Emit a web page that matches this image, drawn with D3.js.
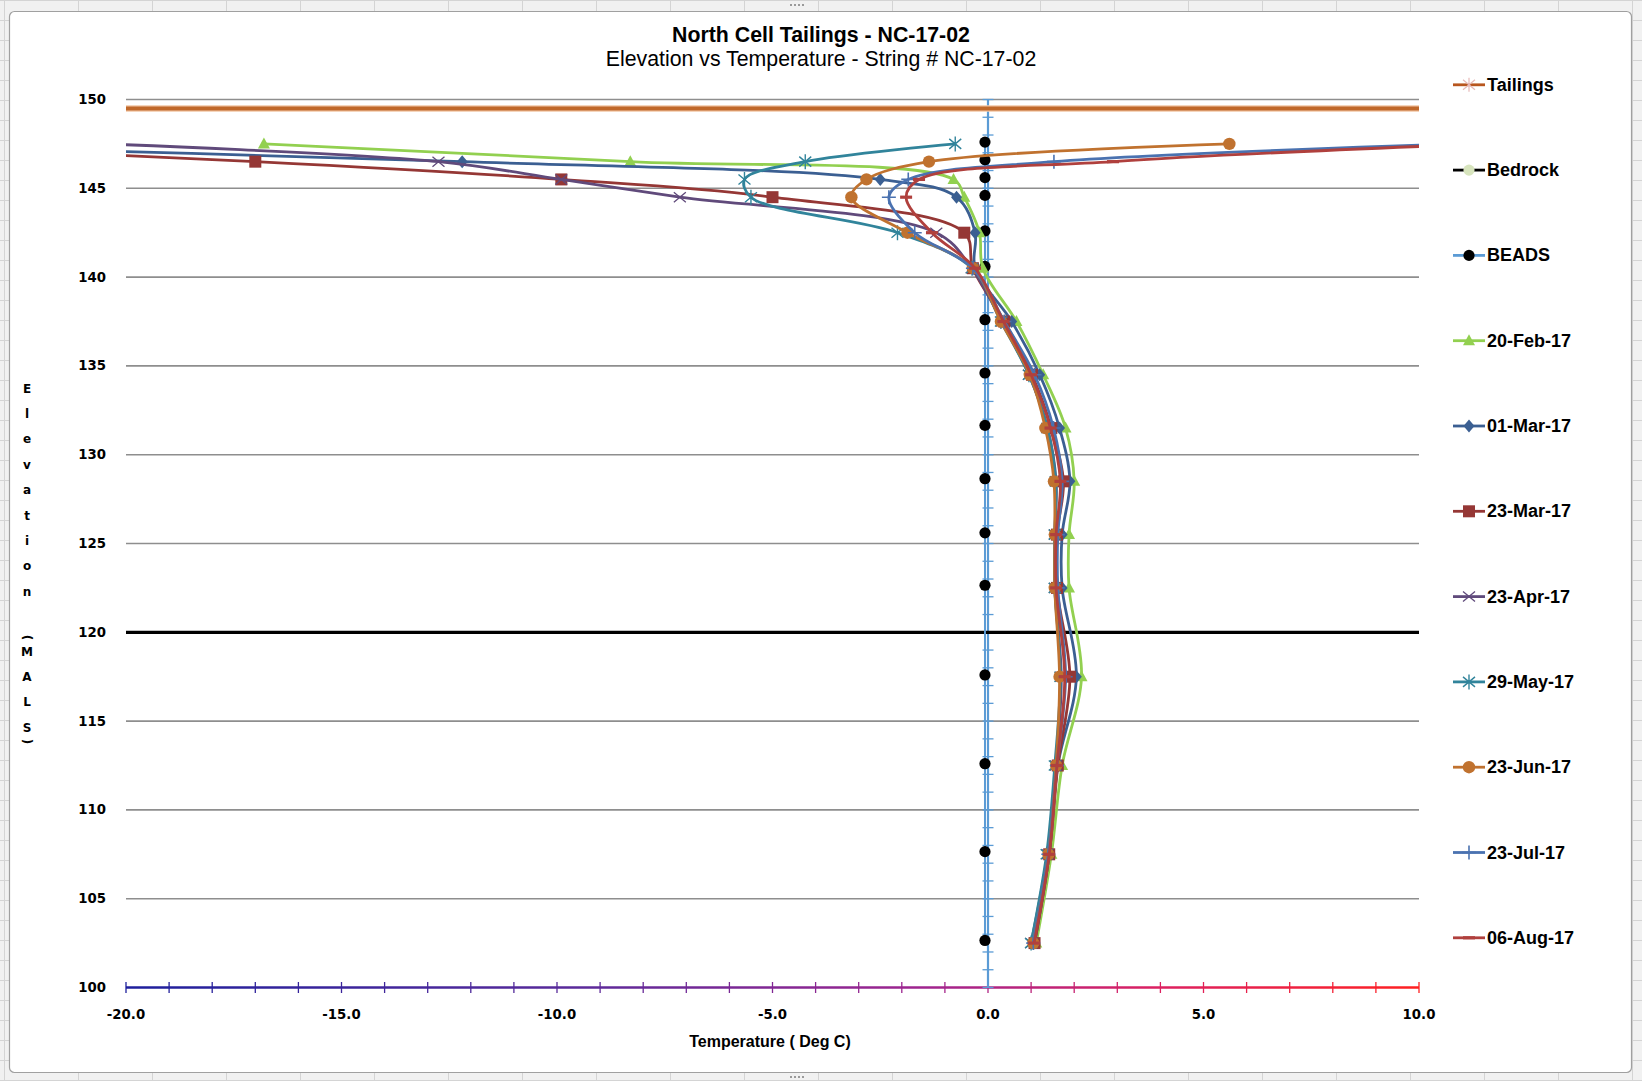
<!DOCTYPE html>
<html>
<head>
<meta charset="utf-8">
<script src="https://cdn.jsdelivr.net/npm/d3@7"></script>
<style>
  body { margin: 0; background: #fff; }
  svg { display: block; }
</style>
</head>
<body>
<svg id="chart" width="1642" height="1081"></svg>
<script>
// axis ranges and ticks
const tempDomain = [-20, 10];
const elevDomain = [100, 150];
const xTickValues = d3.range(-20, 10.001, 5);
const yTickValues = d3.range(100, 150.001, 5);

// thermistor elevations (MALS) used by every reading
const elevations = [147.5, 146.5, 145.5, 144.5, 142.5, 140.5, 137.5, 134.5, 131.5, 128.5, 125.5, 122.5, 117.5, 112.5, 107.5, 102.5];

// bead positions
const beadElev = [147.6, 146.6, 145.6, 144.6, 142.6, 140.6, 137.6, 134.6, 131.65, 128.65, 125.6, 122.65, 117.6, 112.6, 107.65, 102.65];
const beadTemp = [-0.07, -0.07, -0.07, -0.07, -0.07, -0.07, -0.07, -0.07, -0.07, -0.07, -0.07, -0.07, -0.07, -0.07, -0.07, -0.07];

// reference lines
const tailingsTemp = [-25, 15];
const tailingsElev = [149.5, 149.5];
const bedrockTemp = [-25, 15];
const bedrockElev = [120, 120];

// temperature readings (deg C), one value per elevation
const feb20 = [-16.8, -8.3, -0.8, -0.55, -0.2, -0.12, 0.66, 1.28, 1.8, 2.0, 1.88, 1.88, 2.17, 1.72, 1.47, 1.12];
const mar01 = [-26.7, -12.2, -2.5, -0.73, -0.3, -0.3, 0.55, 1.2, 1.66, 1.9, 1.72, 1.72, 2.05, 1.62, 1.42, 1.08];
const mar23 = [-26.4, -17.0, -9.9, -5.0, -0.55, -0.35, 0.38, 1.02, 1.47, 1.75, 1.6, 1.6, 1.9, 1.62, 1.42, 1.08];
const apr23 = [-20.5, -12.75, -9.9, -7.15, -1.2, -0.38, 0.32, 0.95, 1.38, 1.58, 1.55, 1.55, 1.7, 1.58, 1.38, 1.0];
const may29 = [-0.76, -4.24, -5.65, -5.5, -2.1, -0.37, 0.3, 0.95, 1.38, 1.57, 1.55, 1.55, 1.68, 1.55, 1.36, 1.0];
const jun23 = [5.6, -1.37, -2.82, -3.17, -1.87, -0.35, 0.3, 0.97, 1.33, 1.53, 1.55, 1.55, 1.66, 1.58, 1.4, 1.05];
const jul23 = [11.0, 1.53, -1.85, -2.3, -1.7, -0.35, 0.38, 1.08, 1.52, 1.72, 1.62, 1.62, 1.8, 1.6, 1.4, 1.05];
const aug06 = [11.5, 2.9, -1.6, -1.9, -1.3, -0.3, 0.36, 1.0, 1.45, 1.68, 1.58, 1.58, 1.78, 1.6, 1.42, 1.07];

const readingNames = ['20-Feb-17', '01-Mar-17', '23-Mar-17', '23-Apr-17', '29-May-17', '23-Jun-17', '23-Jul-17', '06-Aug-17'];
const readingTemps = [feb20, mar01, mar23, apr23, may29, jun23, jul23, aug06];

// styles
const readingStyle = {
  '20-Feb-17': { color: '#92d050', marker: 'tri' },
  '01-Mar-17': { color: '#3b5f92', marker: 'diamond' },
  '23-Mar-17': { color: '#953735', marker: 'square' },
  '23-Apr-17': { color: '#604a7b', marker: 'x' },
  '29-May-17': { color: '#31849b', marker: 'star' },
  '23-Jun-17': { color: '#c0722f', marker: 'circle' },
  '23-Jul-17': { color: '#4a72b0', marker: 'plus' },
  '06-Aug-17': { color: '#b0403d', marker: 'dash' }
};

const W = 1642, H = 1081;
const svg = d3.select('#chart');

const x = d3.scaleLinear().domain(tempDomain).range([126, 1419]);
const y = d3.scaleLinear().domain(elevDomain).range([987.5, 99.5]);

// spreadsheet behind the chart
svg.append('rect').attr('width', W).attr('height', H).attr('fill', '#f1f1f1');
const cells = svg.append('g').attr('stroke', '#d4d4d4').attr('stroke-width', 1);
d3.range(4, W, 74).forEach(v => cells.append('line').attr('x1', v + 0.5).attr('x2', v + 0.5).attr('y1', 0).attr('y2', H));
d3.range(0, H, 20).forEach(v => cells.append('line').attr('x1', 0).attr('x2', W).attr('y1', v + 0.5).attr('y2', v + 0.5));

svg.append('rect')
  .attr('x', 9.5).attr('y', 11.5).attr('width', 1622).attr('height', 1061).attr('rx', 5)
  .attr('fill', '#fff').attr('stroke', '#a0a0a0').attr('stroke-width', 1.2);

// small grip marks on the frame
[[790, 4], [790, 1076]].forEach(([cx, cy]) => {
  d3.range(4).forEach(i => svg.append('rect').attr('x', cx + i * 4).attr('y', cy).attr('width', 2).attr('height', 2).attr('fill', '#9a9a9a'));
});

// titles
svg.append('text')
  .attr('x', 821).attr('y', 35).attr('text-anchor', 'middle').attr('dominant-baseline', 'central')
  .style('font', 'bold 21.3px "Liberation Sans", Arial, sans-serif').attr('fill', '#000')
  .text('North Cell Tailings - NC-17-02');
svg.append('text')
  .attr('x', 821).attr('y', 59).attr('text-anchor', 'middle').attr('dominant-baseline', 'central')
  .style('font', '21.3px "Liberation Sans", Arial, sans-serif').attr('fill', '#000')
  .text('Elevation vs Temperature - String # NC-17-02');

// gridlines
const grid = svg.append('g');
yTickValues.filter(v => v > elevDomain[0]).forEach(v => {
  grid.append('line')
    .attr('x1', x(tempDomain[0])).attr('x2', x(tempDomain[1]))
    .attr('y1', y(v)).attr('y2', y(v))
    .attr('stroke', '#8e8e8e').attr('stroke-width', 1.6);
});

// y labels
svg.append('g').selectAll('text').data(yTickValues).join('text')
  .attr('x', 106).attr('y', d => y(d)).attr('text-anchor', 'end').attr('dominant-baseline', 'central')
  .style('font', 'bold 13.3px "DejaVu Sans", Verdana, sans-serif').attr('fill', '#000')
  .text(d => d);

// y title, stacked letters
const yTitle = svg.append('g').style('font', 'bold 12px "DejaVu Sans", Verdana, sans-serif').attr('fill', '#000');
'Elevation'.split('').forEach((c, i) => {
  yTitle.append('text').attr('x', 27).attr('y', 388.6 + i * 25.4)
    .attr('text-anchor', 'middle').attr('dominant-baseline', 'central').text(c);
});
'MALS'.split('').forEach((c, i) => {
  yTitle.append('text').attr('x', 27).attr('y', 651.5 + i * 25.4)
    .attr('text-anchor', 'middle').attr('dominant-baseline', 'central').text(c);
});
[['(', 637.5], [')', 741.5]].forEach(([c, py]) => {
  yTitle.append('text').attr('transform', `translate(27,${py}) rotate(90)`)
    .attr('text-anchor', 'middle').attr('dominant-baseline', 'central').text(c);
});

// x axis with colour ramp
const defs = svg.append('defs');
const grad = defs.append('linearGradient').attr('id', 'xramp')
  .attr('gradientUnits', 'userSpaceOnUse')
  .attr('x1', x(tempDomain[0])).attr('x2', x(tempDomain[1])).attr('y1', 0).attr('y2', 0);
[[0, '#1d1f9c'], [0.35, '#5a2a9a'], [0.62, '#a0248e'], [0.8, '#dc2060'], [1, '#ff2020']].forEach(([o, c]) => {
  grad.append('stop').attr('offset', o).attr('stop-color', c);
});
const xAxisG = svg.append('g').attr('stroke', 'url(#xramp)');
xAxisG.append('line')
  .attr('x1', x(tempDomain[0])).attr('x2', x(tempDomain[1]))
  .attr('y1', y(elevDomain[0])).attr('y2', y(elevDomain[0]))
  .attr('stroke-width', 2.6);
x.ticks(30).forEach(v => {
  xAxisG.append('line').attr('x1', x(v)).attr('x2', x(v))
    .attr('y1', y(elevDomain[0]) - 5.5).attr('y2', y(elevDomain[0]) + 5.5)
    .attr('stroke-width', 1.3);
});

svg.append('g').selectAll('text').data(xTickValues).join('text')
  .attr('x', d => x(d)).attr('y', 1014).attr('text-anchor', 'middle').attr('dominant-baseline', 'central')
  .style('font', 'bold 13.3px "DejaVu Sans", Verdana, sans-serif').attr('fill', '#000')
  .text(d => d.toFixed(1));

svg.append('text')
  .attr('x', 770).attr('y', 1041).attr('text-anchor', 'middle').attr('dominant-baseline', 'central')
  .style('font', 'bold 16px "Liberation Sans", Arial, sans-serif').attr('fill', '#000')
  .text('Temperature ( Deg C)');

// vertical axis crossing at 0 deg
const yAxisG = svg.append('g').attr('stroke', '#5b9bd5');
yAxisG.append('line')
  .attr('x1', x(0)).attr('x2', x(0)).attr('y1', y(elevDomain[0])).attr('y2', y(elevDomain[1]))
  .attr('stroke-width', 2.2);
y.ticks(50).forEach(v => {
  yAxisG.append('line').attr('x1', x(0) - 5.5).attr('x2', x(0) + 5.5)
    .attr('y1', y(v)).attr('y2', y(v)).attr('stroke-width', 1.3);
});

// markers
function drawMarker(g, type, color) {
  switch (type) {
    case 'tri':
      g.append('path').attr('d', 'M0,-6.5L6,4.5L-6,4.5Z').attr('fill', color);
      break;
    case 'diamond':
      g.append('path').attr('d', 'M0,-6.5L5.5,0L0,6.5L-5.5,0Z').attr('fill', color);
      break;
    case 'square':
      g.append('rect').attr('x', -6).attr('y', -6).attr('width', 12).attr('height', 12).attr('fill', color);
      break;
    case 'x':
      g.append('path').attr('d', 'M-6,-5L6,5M-6,5L6,-5').attr('stroke', color).attr('stroke-width', 1.3).attr('fill', 'none');
      break;
    case 'star':
      g.append('path').attr('d', 'M-6,-5L6,5M-6,5L6,-5M0,-7.5L0,7.5').attr('stroke', color).attr('stroke-width', 1.4).attr('fill', 'none');
      break;
    case 'circle':
      g.append('circle').attr('r', 6.2).attr('fill', color);
      break;
    case 'plus':
      g.append('path').attr('d', 'M-7,0L7,0M0,-7L0,7').attr('stroke', color).attr('stroke-width', 1.6).attr('fill', 'none');
      break;
    case 'dash':
      g.append('rect').attr('x', -6).attr('y', -1.6).attr('width', 12).attr('height', 3.2).attr('fill', color);
      break;
    case 'bead':
      g.append('circle').attr('r', 5.6).attr('fill', '#000');
      break;
    case 'tailings':
      g.append('path').attr('d', 'M-6,-5L6,5M-6,5L6,-5M0,-7L0,7').attr('stroke', '#e6b9b8').attr('stroke-width', 1.2).attr('fill', 'none');
      break;
    case 'bedrock':
      g.append('circle').attr('r', 5.6).attr('fill', '#d7e4bd');
      break;
  }
}

// series, clipped to the plot area
defs.append('clipPath').attr('id', 'plotclip').append('rect')
  .attr('x', x(tempDomain[0])).attr('y', y(elevDomain[1]) - 8)
  .attr('width', x(tempDomain[1]) - x(tempDomain[0])).attr('height', y(elevDomain[0]) - y(elevDomain[1]) + 16);
const plotG = svg.append('g').attr('clip-path', 'url(#plotclip)');

const straight = d3.line().x(d => x(d[0])).y(d => y(d[1]));
const smooth = d3.line().x(d => x(d[0])).y(d => y(d[1])).curve(d3.curveCatmullRom.alpha(0.5));

plotG.append('path').datum(d3.zip(tailingsTemp, tailingsElev)).attr('d', straight)
  .attr('fill', 'none').attr('stroke', '#f2c7a6').attr('stroke-width', 6.5);
plotG.append('path').datum(d3.zip(tailingsTemp, tailingsElev)).attr('d', straight)
  .attr('fill', 'none').attr('stroke', '#c0682a').attr('stroke-width', 4);
plotG.append('path').datum(d3.zip(bedrockTemp, bedrockElev)).attr('d', straight)
  .attr('fill', 'none').attr('stroke', '#000').attr('stroke-width', 3.2);

const beads = d3.zip(beadTemp, beadElev);
plotG.append('path').datum(beads).attr('d', straight)
  .attr('fill', 'none').attr('stroke', '#5b9bd5').attr('stroke-width', 2);
beads.forEach(p => drawMarker(plotG.append('g').attr('transform', `translate(${x(p[0])},${y(p[1])})`), 'bead'));

readingNames.forEach((name, i) => {
  const st = readingStyle[name];
  const pts = d3.zip(readingTemps[i], elevations);
  plotG.append('path').datum(pts).attr('d', smooth)
    .attr('fill', 'none').attr('stroke', st.color).attr('stroke-width', 2.8)
    .attr('stroke-linejoin', 'round');
  pts.forEach(p => drawMarker(plotG.append('g').attr('transform', `translate(${x(p[0])},${y(p[1])})`), st.marker, st.color));
});

// legend
const legendItems = [
  { name: 'Tailings', color: '#b8561e', marker: 'tailings' },
  { name: 'Bedrock', color: '#000', marker: 'bedrock' },
  { name: 'BEADS', color: '#5b9bd5', marker: 'bead' }
].concat(readingNames.map(n => ({ name: n, color: readingStyle[n].color, marker: readingStyle[n].marker })));

const legend = svg.append('g');
legendItems.forEach((item, i) => {
  const ly = 84.8 + i * 85.3;
  const row = legend.append('g').attr('transform', `translate(1453,${ly})`);
  row.append('line').attr('x1', 0).attr('x2', 32).attr('stroke', item.color).attr('stroke-width', 2.8);
  drawMarker(row.append('g').attr('transform', 'translate(16,0)'), item.marker, item.color);
  row.append('text').attr('x', 34).attr('dominant-baseline', 'central')
    .style('font', 'bold 18px "Liberation Sans", Arial, sans-serif').attr('fill', '#000')
    .text(item.name);
});
</script>
</body>
</html>
